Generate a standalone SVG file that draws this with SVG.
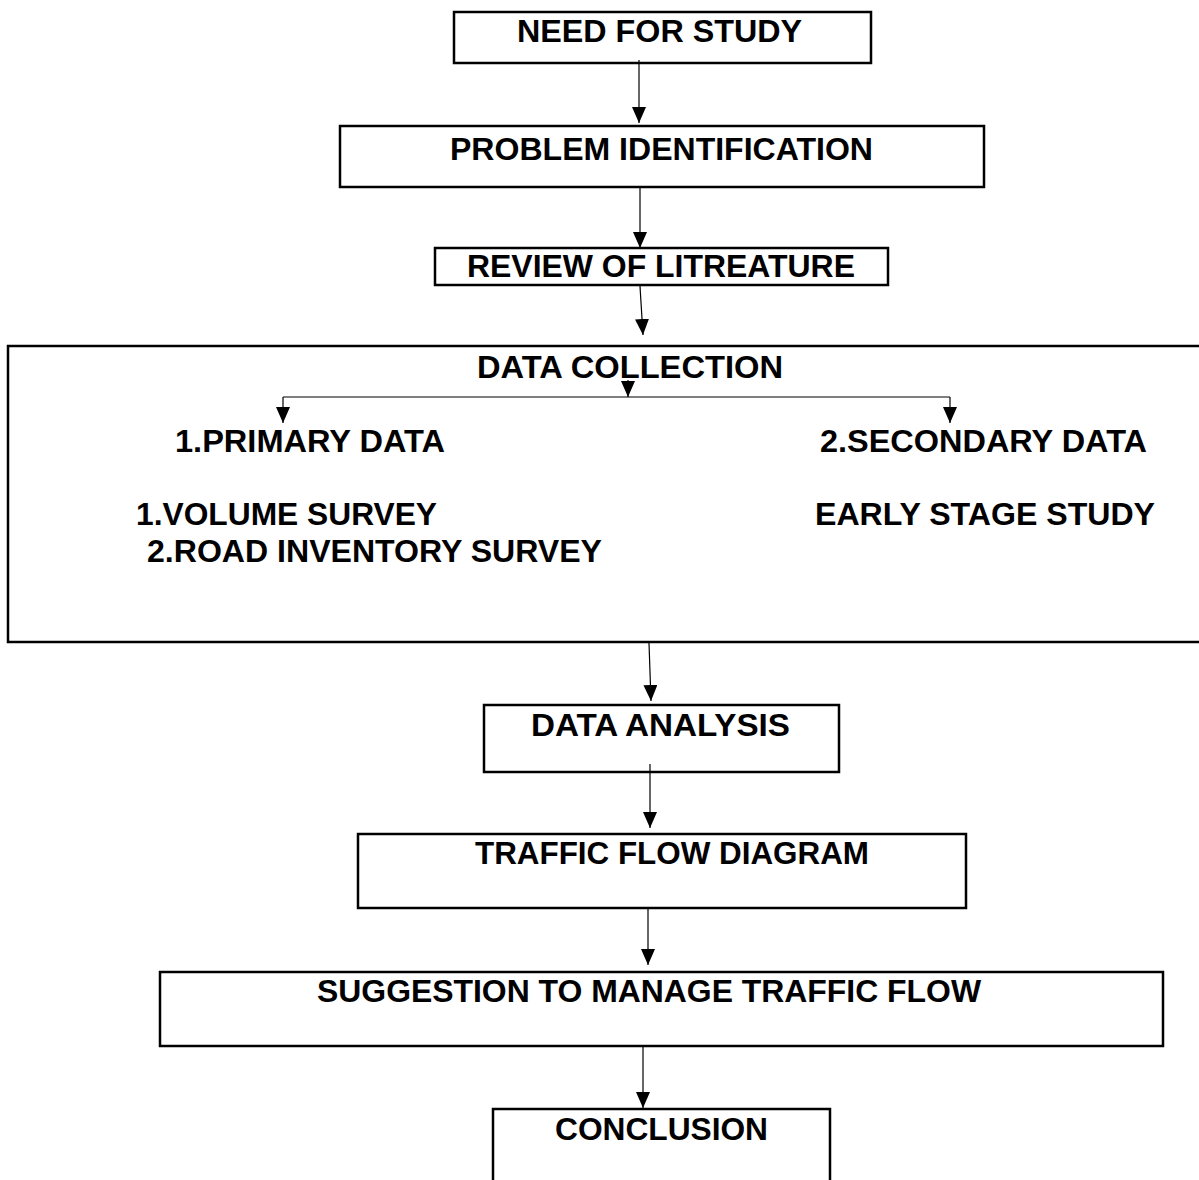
<svg xmlns="http://www.w3.org/2000/svg" width="1199" height="1180" viewBox="0 0 1199 1180">
<style>
.box{fill:none;stroke:#000;stroke-width:2.5}
.t{font-family:"Liberation Sans",Arial,sans-serif;font-weight:bold;font-size:31px;fill:#000}
.c{fill:none;stroke:#000;stroke-width:1.2}
</style>
<defs>
<marker id="ah" markerUnits="userSpaceOnUse" viewBox="0 0 16 14" markerWidth="16" markerHeight="14" refX="16" refY="7" orient="auto">
<path d="M0,0 L16,7 L0,14 z" fill="#000"/>
</marker>
</defs>
<rect width="1199" height="1180" fill="#fff"/>
<g id="n1"><rect class="box" x="454" y="12" width="417" height="51"/><text class="t" x="517" y="42" textLength="285" lengthAdjust="spacingAndGlyphs">NEED FOR STUDY</text></g>
<g id="n2"><rect class="box" x="340" y="126" width="644" height="61"/><text class="t" x="450" y="160" textLength="423" lengthAdjust="spacingAndGlyphs">PROBLEM IDENTIFICATION</text></g>
<g id="n3"><rect class="box" x="435" y="248" width="453" height="37"/><text class="t" x="467" y="277" textLength="388" lengthAdjust="spacingAndGlyphs">REVIEW OF LITREATURE</text></g>
<g id="n4"><path class="box" d="M1199,346 H8 V642 H1199"/>
<text class="t" x="477" y="378" textLength="306" lengthAdjust="spacingAndGlyphs">DATA COLLECTION</text>
<text class="t" x="175" y="452" textLength="270" lengthAdjust="spacingAndGlyphs">1.PRIMARY DATA</text>
<text class="t" x="136" y="525" textLength="301" lengthAdjust="spacingAndGlyphs">1.VOLUME SURVEY</text>
<text class="t" x="147" y="562" textLength="455" lengthAdjust="spacingAndGlyphs">2.ROAD INVENTORY SURVEY</text>
<text class="t" x="820" y="452" textLength="327" lengthAdjust="spacingAndGlyphs">2.SECONDARY DATA</text>
<text class="t" x="815" y="525" textLength="340" lengthAdjust="spacingAndGlyphs">EARLY STAGE STUDY</text>
</g>
<g id="n5"><rect class="box" x="484" y="705" width="355" height="67"/><text class="t" x="531" y="736" textLength="259" lengthAdjust="spacingAndGlyphs">DATA ANALYSIS</text></g>
<g id="n6"><rect class="box" x="358" y="834" width="608" height="74"/><text class="t" x="475" y="864" textLength="394" lengthAdjust="spacingAndGlyphs">TRAFFIC FLOW DIAGRAM</text></g>
<g id="n7"><rect class="box" x="160" y="972" width="1003" height="74"/><text class="t" x="317" y="1002" textLength="664" lengthAdjust="spacingAndGlyphs">SUGGESTION TO MANAGE TRAFFIC FLOW</text></g>
<g id="n8"><path class="box" d="M493,1185 V1109 H830 V1185"/><text class="t" x="555" y="1140" textLength="213" lengthAdjust="spacingAndGlyphs">CONCLUSION</text></g>
<g id="connectors">
<line class="c" x1="639" y1="60" x2="639" y2="123" marker-end="url(#ah)"/>
<line class="c" x1="640" y1="187" x2="640" y2="248" marker-end="url(#ah)"/>
<line class="c" x1="640" y1="286" x2="643" y2="335" marker-end="url(#ah)"/>
<line class="c" x1="628" y1="380" x2="628" y2="397" marker-end="url(#ah)"/>
<line class="c" x1="283" y1="397" x2="950" y2="397"/>
<line class="c" x1="283" y1="397" x2="283" y2="423" marker-end="url(#ah)"/>
<line class="c" x1="950" y1="397" x2="950" y2="423" marker-end="url(#ah)"/>
<line class="c" x1="649" y1="643" x2="651" y2="701" marker-end="url(#ah)"/>
<line class="c" x1="650" y1="764" x2="650" y2="828" marker-end="url(#ah)"/>
<line class="c" x1="648" y1="908" x2="648" y2="965" marker-end="url(#ah)"/>
<line class="c" x1="643" y1="1046" x2="643" y2="1108" marker-end="url(#ah)"/>
</g>
</svg>
